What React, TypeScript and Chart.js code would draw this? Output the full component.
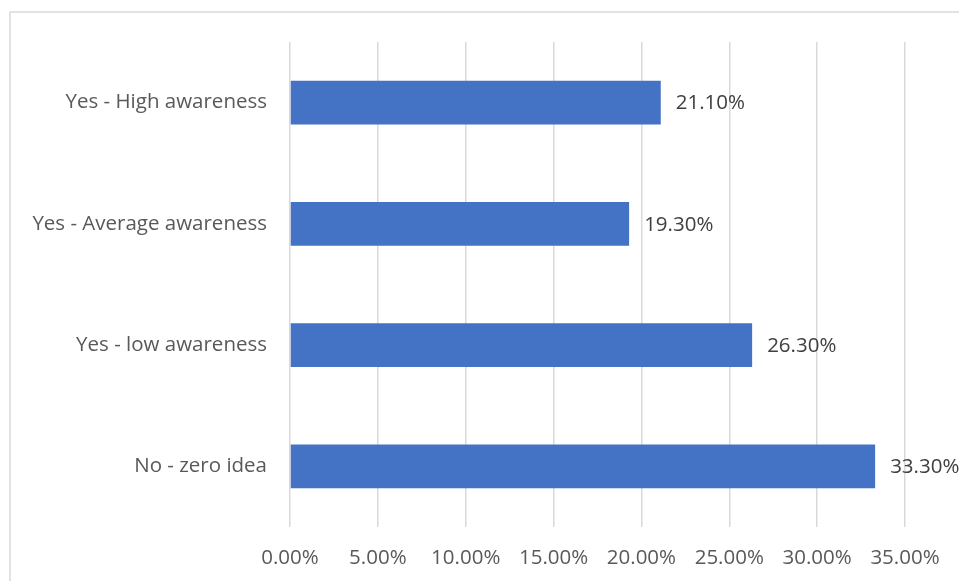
import React, { useEffect, useRef } from "react";
import { Chart, registerables } from "chart.js";

Chart.register(...registerables);

const categories = ["Yes - High awareness", "Yes - Average awareness", "Yes - low awareness", "No - zero idea"];
const values = [21.1, 19.3, 26.3, 33.3];
const xTicksMin = 0;
const xTicksMax = 35;
const xTicksStep = 5;

const FONT = "'Open Sans', 'Noto Sans', sans-serif";

const borderPlugin = {
  id: "outerBorder",
  beforeDraw(chart: any) {
    const ctx = chart.ctx;
    ctx.save();
    ctx.fillStyle = "#ffffff";
    ctx.fillRect(0, 0, chart.width, chart.height);
    ctx.strokeStyle = "#d9d9d9";
    ctx.lineWidth = 1.5;
    ctx.strokeRect(10, 12, chart.width + 20, chart.height + 20);
    ctx.restore();
  },
};

const labelPlugin = {
  id: "valueLabels",
  afterDatasetsDraw(chart: any) {
    const ctx = chart.ctx;
    const meta = chart.getDatasetMeta(0);
    ctx.save();
    ctx.font = `20.5px ${FONT}`;
    ctx.fillStyle = "#404040";
    ctx.textAlign = "left";
    ctx.textBaseline = "middle";
    meta.data.forEach((bar: any, i: number) => {
      ctx.fillText(values[i].toFixed(2) + "%", bar.x + 15, bar.y + 1);
    });
    ctx.restore();
  },
};

export default function App() {
  const ref = useRef<HTMLCanvasElement>(null);
  useEffect(() => {
    document.body.style.margin = "0";
    document.body.style.overflow = "hidden";
    const chart = new Chart(ref.current!, {
      type: "bar",
      data: {
        labels: categories,
        datasets: [
          {
            data: values,
            backgroundColor: "#4472C4",
            borderWidth: 0,
            categoryPercentage: 1,
            barPercentage: 0.36,
          },
        ],
      },
      options: {
        indexAxis: "y",
        animation: false,
        responsive: false,
        layout: { padding: { top: 42, right: 54, left: 0, bottom: 0 } },
        plugins: { legend: { display: false }, tooltip: { enabled: false } },
        scales: {
          x: {
            min: xTicksMin,
            max: xTicksMax,
            ticks: {
              stepSize: xTicksStep,
              color: "#595959",
              font: { family: FONT, size: 20.5 },
              padding: 19,
              callback: (v: any) => Number(v).toFixed(2) + "%",
              maxRotation: 0,
              autoSkip: false,
            },
            grid: { color: "#d9d9d9", lineWidth: 1.5, drawTicks: false },
            border: { display: false },
            afterFit: (s: any) => {
              s.height = 54;
            },
          },
          y: {
            ticks: {
              color: "#595959",
              font: { family: FONT, size: 20.5 },
              padding: 23,
            },
            grid: { display: false, drawTicks: false },
            border: { display: false },
            afterFit: (s: any) => {
              s.width = 290;
            },
          },
        },
      },
      plugins: [borderPlugin, labelPlugin],
    });
    return () => chart.destroy();
  }, []);
  return <canvas ref={ref} width={959} height={581} style={{ display: "block" }} />;
}
